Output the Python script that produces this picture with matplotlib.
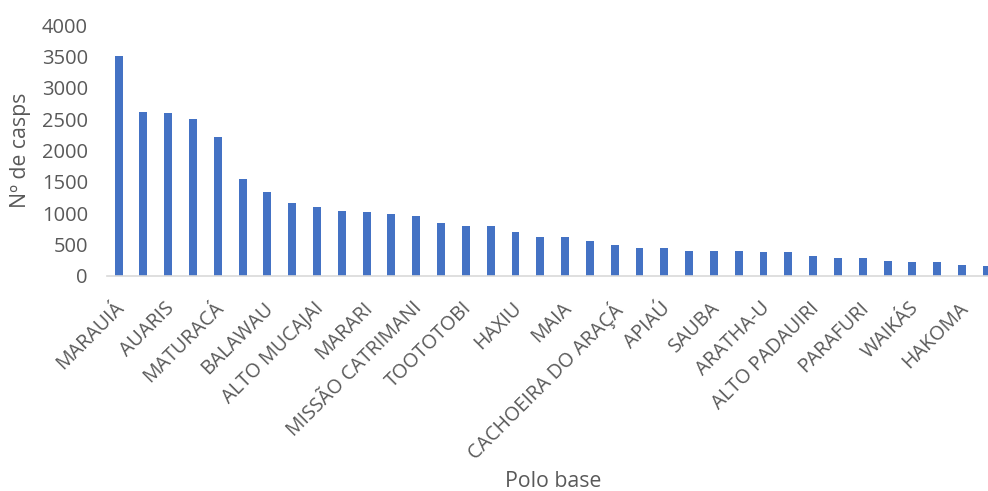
import matplotlib.pyplot as plt
from matplotlib.transforms import ScaledTranslation

# Número de casps por polo base, ordenado do maior para o menor
valores = [3500, 2620, 2600, 2510, 2220, 1550, 1340, 1160, 1100, 1040,
           1020, 980, 960, 850, 790, 790, 700, 620, 620, 560,
           500, 450, 450, 400, 400, 400, 380, 380, 310, 280,
           280, 240, 220, 220, 180, 160]

# o eixo só mostra o nome de um polo a cada dois
rotulos = ["MARAUIÁ", "AUARIS", "MATURACÁ", "BALAWAU", "ALTO MUCAJAI",
           "MARARI", "MISSÃO CATRIMANI", "TOOTOTOBI", "HAXIU", "MAIA",
           "CACHOEIRA DO ARAÇÁ", "APIAÚ", "SAUBA", "ARATHA-U",
           "ALTO PADAUIRI", "PARAFURI", "WAIKÁS", "HAKOMA"]

yticks = [0, 500, 1000, 1500, 2000, 2500, 3000, 3500, 4000]

cinza = "#595959"
plt.rcParams["font.family"] = ["Open Sans", "DejaVu Sans"]

fig = plt.figure(figsize=(9.88, 4.91), dpi=100)
ax = fig.add_axes([0.108, 0.438, 0.892, 0.511])

x = list(range(len(valores)))
ax.bar(x, valores, width=0.32, color="#4472C4")

ax.set_xlim(-0.48, 35.05)
ax.set_ylim(0, 4000)
ax.set_yticks(yticks)
ax.set_yticklabels([str(v) for v in yticks], fontsize=14.5, color=cinza)

ax.set_xticks(x[::2])
ax.set_xticklabels(rotulos, rotation=45, ha="right", rotation_mode="anchor",
                   fontsize=14.2, color=cinza)
ax.tick_params(axis="both", length=0)
ax.tick_params(axis="x", pad=16)
ax.tick_params(axis="y", pad=13.5)

# recua um pouco os nomes inclinados
desloc = ScaledTranslation(-4 / 100, 0, fig.dpi_scale_trans)
for rot in ax.get_xticklabels():
    rot.set_transform(rot.get_transform() + desloc)

for lado in ["top", "right", "left"]:
    ax.spines[lado].set_visible(False)
ax.spines["bottom"].set_color("#d9d9d9")
ax.spines["bottom"].set_linewidth(1.2)

ax.set_ylabel("Nº de casps", fontsize=15.3, color=cinza, labelpad=8)
fig.text(0.56, 0.02, "Polo base", fontsize=15.3, color=cinza,
         ha="center", va="center")

fig.savefig("out.png", dpi=100)
